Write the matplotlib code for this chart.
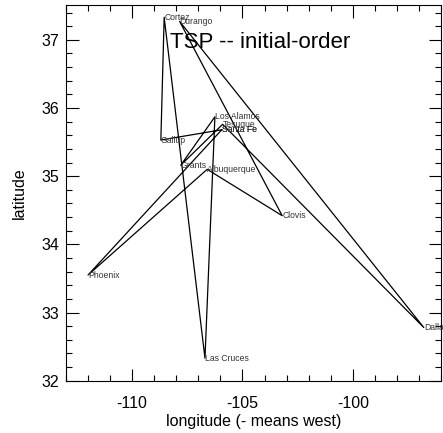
import matplotlib
matplotlib.use('Agg')
import matplotlib.pyplot as plt
from matplotlib.ticker import MultipleLocator

plt.rcParams['font.family'] = ['Liberation Sans', 'DejaVu Sans']
plt.rcParams['axes.unicode_minus'] = False

# tour in the initial order (closed: ends where it starts)
cities = ['Santa Fe', 'Phoenix', 'Albuquerque', 'Clovis', 'Durango', 'Dallas',
          'Tesuque', 'Grants', 'Los Alamos', 'Las Cruces', 'Cortez', 'Gallup',
          'Santa Fe']
lon = [-105.94, -112.0, -106.6, -103.2, -107.85, -96.78,
       -105.9, -107.8, -106.25, -106.7, -108.55, -108.7,
       -105.94]
lat = [35.68, 33.55, 35.1, 34.42, 37.27, 32.78,
       35.76, 35.16, 35.87, 32.33, 37.33, 35.53,
       35.68]

fig = plt.figure(figsize=(4.43, 4.33), dpi=100)
ax = fig.add_axes([66/443, 1-380.7/433, 375/443, 375.7/433])

ax.plot(lon, lat, color='black', lw=0.9)
for name, x, y in zip(cities, lon, lat):
    ax.text(x, y, name, fontsize=6.2, color='#333333', ha='left', va='center')

ax.text(0.277, 0.886, 'TSP -- initial-order', transform=ax.transAxes,
        fontsize=16, ha='left', va='baseline')

ax.set_xlim(-113, -96)
ax.set_ylim(32, 37.51)
ax.xaxis.set_major_locator(MultipleLocator(5))
ax.xaxis.set_minor_locator(MultipleLocator(1))
ax.yaxis.set_major_locator(MultipleLocator(1))
ax.yaxis.set_minor_locator(MultipleLocator(0.2))
ax.tick_params(which='both', direction='in', top=True, right=True, width=0.8)
ax.tick_params(which='major', length=9, labelsize=11.5)
ax.tick_params(axis='x', which='major', pad=11)
ax.tick_params(axis='y', which='major', pad=5)
ax.tick_params(which='minor', length=4.5)
for s in ax.spines.values():
    s.set_linewidth(0.8)

ax.set_xlabel('longitude (- means west)', fontsize=11.5, labelpad=2)
ax.set_ylabel('latitude', fontsize=11.5, labelpad=10)

fig.savefig('out.png', dpi=100)
